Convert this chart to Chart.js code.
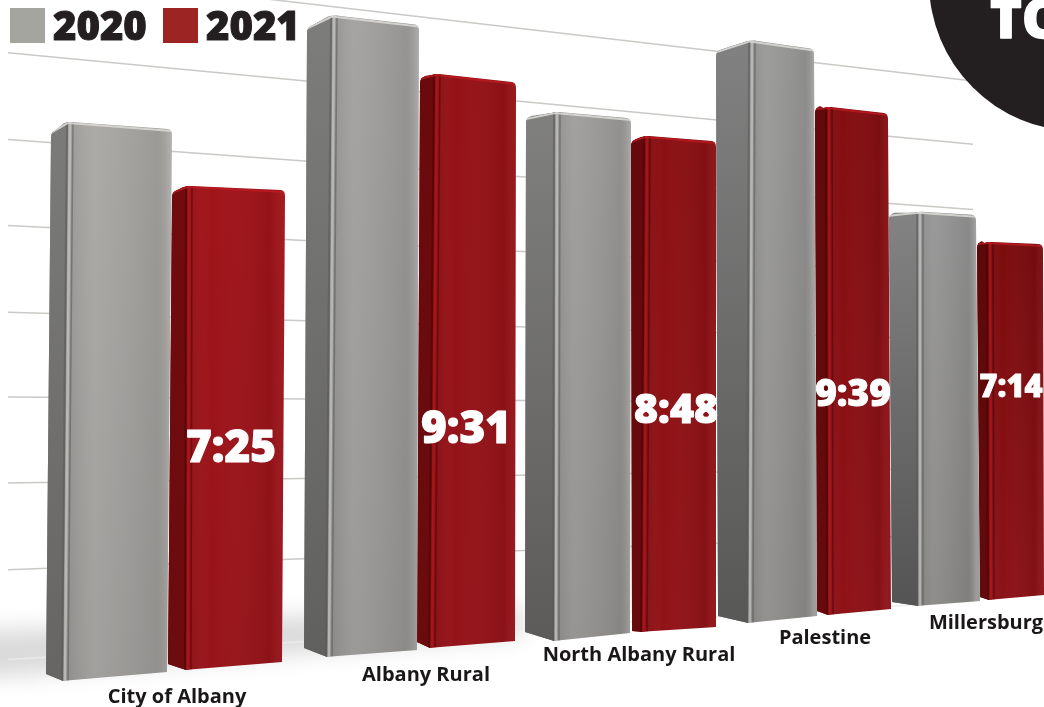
<!DOCTYPE html>
<html lang="en">
<head>
    <meta charset="UTF-8">
    <title>Response times 2020 and 2021</title>
    <script src="https://cdn.jsdelivr.net/npm/chart.js"></script>
    <style>
        html, body { margin: 0; padding: 0; background: #fff; overflow: hidden; }
        canvas { display: block; }
    </style>
</head>
<body>
    <canvas id="timesChart" width="1044" height="707"></canvas>

    <script>
        const categories = ['City of Albany', 'Albany Rural', 'North Albany Rural', 'Palestine', 'Millersburg'];
        const years = ['2020', '2021'];
        // response times in seconds
        const seconds2020 = [514, 638, 563, 664, 478];
        const seconds2021 = [445, 571, 528, 579, 434];

        const W = 1044, H = 707;

        // perspective of each column: pixels per second shrink going back
        const depthRate = [1.0876, 1.0053, 0.9394, 0.8774, 0.8249];
        const barFrames = [
            { left: 46,  right: 167,  knee: 17, floor: 681, rise: [7, 9],  drop: [10, 8], lean: [5, 5, 5] },
            { left: 168, right: 282,  knee: 18, floor: 670, rise: [6, 8],  drop: [6, 5],  lean: [4, 1, 3] },
            { left: 304, right: 417,  knee: 23, floor: 657, rise: [9, 7],  drop: [12, 10], lean: [3, 5, 2] },
            { left: 417, right: 515,  knee: 13, floor: 648, rise: [6, 7],  drop: [4, 9],  lean: [3, 5, 1] },
            { left: 525, right: 630,  knee: 29, floor: 641, rise: [9, 8],  drop: [6, 7],  lean: [1, 1, 1] },
            { left: 632, right: 716,  knee: 10, floor: 632, rise: [1, 5],  drop: [5, 6],  lean: [-1, 3, 0] },
            { left: 718, right: 817,  knee: 30, floor: 623, rise: [7, 7],  drop: [11, 9], lean: [-2, 2, -3] },
            { left: 817, right: 891,  knee: 11, floor: 615, rise: [4, 6],  drop: [1, 7],  lean: [-2, -1, -3] },
            { left: 892, right: 980,  knee: 26, floor: 606, rise: [4, 5],  drop: [3, 4],  lean: [-3, 0, -4] },
            { left: 980, right: 1044, knee: 9,  floor: 600, rise: [3, 5],  drop: [1, 3],  lean: [-3, -1, -1] }
        ];

        // value labels and category names, per column
        const labelSize = [44, 44, 41, 37, 31];
        const labelLift = [221, 218, 221, 220, 212];
        const labelShift = [6, 0, 2, -1, -1];
        const nameCenter = [177, 426, 639, 825, 986];
        const nameBaseline = [703, 681, 661, 644, 629];

        // sloped back wall lines: height at the left edge
        const gridStart = [-32, 52, 139, 225, 312, 397, 483, 570];
        const floorLineStart = 660;

        const fontStack = '"Open Sans", "Noto Sans", sans-serif';
        const legendColors = ['#a5a5a0', '#9c2423'];

        function fmtTime(s) {
            const m = Math.floor(s / 60);
            const r = s % 60;
            return m + ':' + (r < 10 ? '0' + r : r);
        }

        function mix(a, b, t) {
            const c = a.map((v, i) => Math.round(v + (b[i] - v) * t));
            return 'rgb(' + c.join(',') + ')';
        }

        const palette = {
            gray: {
                frontTop: [[170, 168, 164], [146, 146, 146]],
                frontBot: [[160, 158, 154], [134, 133, 131]],
                sideTop: [[122, 122, 120], [132, 132, 132]],
                sideBot: [[104, 103, 101], [82, 82, 82]],
                rim: 'rgba(214,213,209,0.95)', ridgeDark: 'rgba(90,90,88,0.55)', ridgeLight: 'rgba(200,200,197,0.7)',
                sheenLight: 0.05, sheenEdge: 0.16
            },
            red: {
                frontTop: [[170, 22, 28], [122, 12, 14]],
                frontBot: [[154, 20, 27], [140, 18, 23]],
                sideTop: [[118, 12, 16], [92, 8, 10]],
                sideBot: [[110, 12, 16], [100, 10, 12]],
                rim: 'rgba(188,26,32,0.8)', ridgeDark: 'rgba(70,4,6,0.5)', ridgeLight: 'rgba(172,22,28,0.8)',
                sheenLight: 0, sheenEdge: 0.03
            }
        };

        function paintBar(ctx, el, frame, colors) {
            const left = el.x - el.width / 2;
            const right = el.x + el.width / 2;
            const knee = left + frame.knee;
            const t = el.x / W;

            const bl = [left, el.base - frame.rise[0]];
            const bk = [knee, el.base];
            const br = [right, el.base - frame.rise[1]];
            const tl = [left + frame.lean[0], el.y + frame.drop[0]];
            const tk = [knee + frame.lean[1], el.y];
            const tr = [right + frame.lean[2], el.y + frame.drop[1]];

            const vertical = (top, bot) => {
                const g = ctx.createLinearGradient(0, el.y, 0, el.base);
                g.addColorStop(0, mix(top[0], top[1], t));
                g.addColorStop(1, mix(bot[0], bot[1], t));
                return g;
            };

            ctx.save();

            // outline with soft top corners
            ctx.beginPath();
            ctx.moveTo(bl[0], bl[1]);
            ctx.lineTo(tl[0], tl[1] + 5);
            ctx.quadraticCurveTo(tl[0], tl[1], tl[0] + 5, tl[1] - 2);
            ctx.lineTo(tk[0] - 4, tk[1] + 1);
            ctx.quadraticCurveTo(tk[0], tk[1], tk[0] + 4, tk[1]);
            ctx.lineTo(tr[0] - 4, tr[1] - 1);
            ctx.quadraticCurveTo(tr[0], tr[1], tr[0], tr[1] + 5);
            ctx.lineTo(br[0], br[1]);
            ctx.lineTo(bk[0] + 4, bk[1] - 0.5);
            ctx.lineTo(bk[0], bk[1]);
            ctx.closePath();
            ctx.clip();

            // front face
            ctx.fillStyle = vertical(colors.frontTop, colors.frontBot);
            ctx.fillRect(left - 10, el.y - 10, right - left + 20, el.base - el.y + 20);

            // sheen across the front face
            const sheen = ctx.createLinearGradient(tk[0], 0, tr[0], 0);
            sheen.addColorStop(0, 'rgba(0,0,0,0.08)');
            sheen.addColorStop(0.25, 'rgba(255,255,255,' + colors.sheenLight + ')');
            sheen.addColorStop(0.85, 'rgba(0,0,0,0.07)');
            sheen.addColorStop(1, 'rgba(255,255,255,' + colors.sheenEdge + ')');
            ctx.fillStyle = sheen;
            ctx.fillRect(left - 10, el.y - 10, right - left + 20, el.base - el.y + 20);

            // left face
            ctx.beginPath();
            ctx.moveTo(bl[0] - 8, bl[1]);
            ctx.lineTo(tl[0] - 8, tl[1]);
            ctx.lineTo(tl[0], tl[1]);
            ctx.lineTo(tk[0], tk[1]);
            ctx.lineTo(bk[0], bk[1]);
            ctx.closePath();
            ctx.fillStyle = vertical(colors.sideTop, colors.sideBot);
            ctx.fill();

            // ridge down the front corner
            const ridge = (dx, style, width) => {
                ctx.beginPath();
                ctx.moveTo(tk[0] + dx, tk[1]);
                ctx.lineTo(bk[0] + dx, bk[1]);
                ctx.strokeStyle = style;
                ctx.lineWidth = width;
                ctx.stroke();
            };
            ridge(-1, colors.ridgeDark, 2);
            ridge(2, colors.ridgeLight, 2.5);
            ridge(5, colors.ridgeDark, 1.5);

            // lit top edge
            ctx.beginPath();
            ctx.moveTo(tl[0], tl[1] + 1);
            ctx.lineTo(tk[0], tk[1] + 1);
            ctx.lineTo(tr[0], tr[1] + 1);
            ctx.strokeStyle = colors.rim;
            ctx.lineWidth = 2;
            ctx.stroke();

            ctx.restore();
        }

        function wallLine(ctx, y0) {
            const slope = 0.108 - 0.000255 * y0;
            ctx.beginPath();
            ctx.moveTo(8, y0 + 8 * slope);
            ctx.lineTo(973, y0 + 973 * slope);
            ctx.stroke();
        }

        // extra-bold text, thickened with a thin outline of the same colour
        function heavyText(ctx, text, x, y, size, color) {
            ctx.font = '800 ' + size + 'px ' + fontStack;
            ctx.fillStyle = color;
            ctx.strokeStyle = color;
            ctx.lineWidth = size / 40;
            ctx.lineJoin = 'round';
            ctx.strokeText(text, x, y);
            ctx.fillText(text, x, y);
        }

        const backdrop = {
            id: 'backdrop',
            beforeDatasetsDraw(chart) {
                const ctx = chart.ctx;
                ctx.save();

                // soft floor shadow behind the nearest columns
                ctx.filter = 'blur(11px)';
                ctx.fillStyle = 'rgba(196,196,196,0.62)';
                ctx.beginPath();
                ctx.moveTo(-40, 632);
                ctx.lineTo(522, 606);
                ctx.lineTo(522, 636);
                ctx.lineTo(-40, 680);
                ctx.closePath();
                ctx.fill();
                ctx.filter = 'none';

                // wall lines fan out towards the back
                ctx.strokeStyle = '#cbc9c6';
                ctx.lineWidth = 1.5;
                gridStart.forEach(y0 => wallLine(ctx, y0));
                ctx.strokeStyle = 'rgba(235,235,235,0.9)';
                wallLine(ctx, floorLineStart);
                ctx.restore();
            }
        };

        const barPainter = {
            id: 'barPainter',
            beforeDatasetDraw(chart, args) {
                const el = args.meta.data[0];
                const colors = args.index % 2 === 0 ? palette.gray : palette.red;
                paintBar(chart.ctx, el, barFrames[args.index], colors);
                return false;
            }
        };

        const annotations = {
            id: 'annotations',
            afterDatasetsDraw(chart) {
                const ctx = chart.ctx;
                ctx.save();

                // corner badge
                ctx.fillStyle = '#231f20';
                ctx.beginPath();
                ctx.arc(1078, -18, 149, 0, Math.PI * 2);
                ctx.fill();
                ctx.textAlign = 'left';
                ctx.textBaseline = 'alphabetic';
                heavyText(ctx, 'TO', 990, 38, 54, '#ffffff');

                // legend
                years.forEach((year, i) => {
                    const x = i === 0 ? 10 : 163;
                    ctx.fillStyle = legendColors[i];
                    ctx.fillRect(x, 8, 35, 35);
                    heavyText(ctx, year, x + 43, 40, 40, '#231f20');
                });

                // values on the 2021 columns
                ctx.textAlign = 'center';
                ctx.textBaseline = 'middle';
                seconds2021.forEach((value, i) => {
                    const el = chart.getDatasetMeta(i * 2 + 1).data[0];
                    heavyText(ctx, fmtTime(value), el.x + labelShift[i], el.base - labelLift[i], labelSize[i], '#ffffff');
                });

                // category names under each pair
                ctx.textBaseline = 'alphabetic';
                ctx.fillStyle = '#1a1718';
                ctx.font = '700 20px ' + fontStack;
                categories.forEach((name, i) => {
                    ctx.fillText(name, nameCenter[i], nameBaseline[i]);
                });
                ctx.restore();
            }
        };

        // one dataset per column, each on its own depth scale
        const datasets = [];
        const scales = {
            x: { type: 'linear', min: 0, max: W, offset: false, display: false }
        };
        categories.forEach((name, i) => {
            [seconds2020, seconds2021].forEach((series, s) => {
                const n = i * 2 + s;
                const frame = barFrames[n];
                const rate = depthRate[i];
                scales['y' + n] = {
                    display: false,
                    min: -(H - frame.floor) / rate,
                    max: frame.floor / rate
                };
                datasets.push({
                    label: years[s] + ' ' + name,
                    data: [{ x: (frame.left + frame.right) / 2, y: series[i] }],
                    yAxisID: 'y' + n,
                    barThickness: frame.right - frame.left,
                    grouped: false,
                    backgroundColor: legendColors[s]
                });
            });
        });

        new Chart(document.getElementById('timesChart').getContext('2d'), {
            type: 'bar',
            data: { datasets },
            options: {
                responsive: false,
                animation: false,
                layout: { padding: 0 },
                scales,
                plugins: {
                    legend: { display: false },
                    tooltip: { enabled: false }
                }
            },
            plugins: [backdrop, barPainter, annotations]
        });
    </script>
</body>
</html>
